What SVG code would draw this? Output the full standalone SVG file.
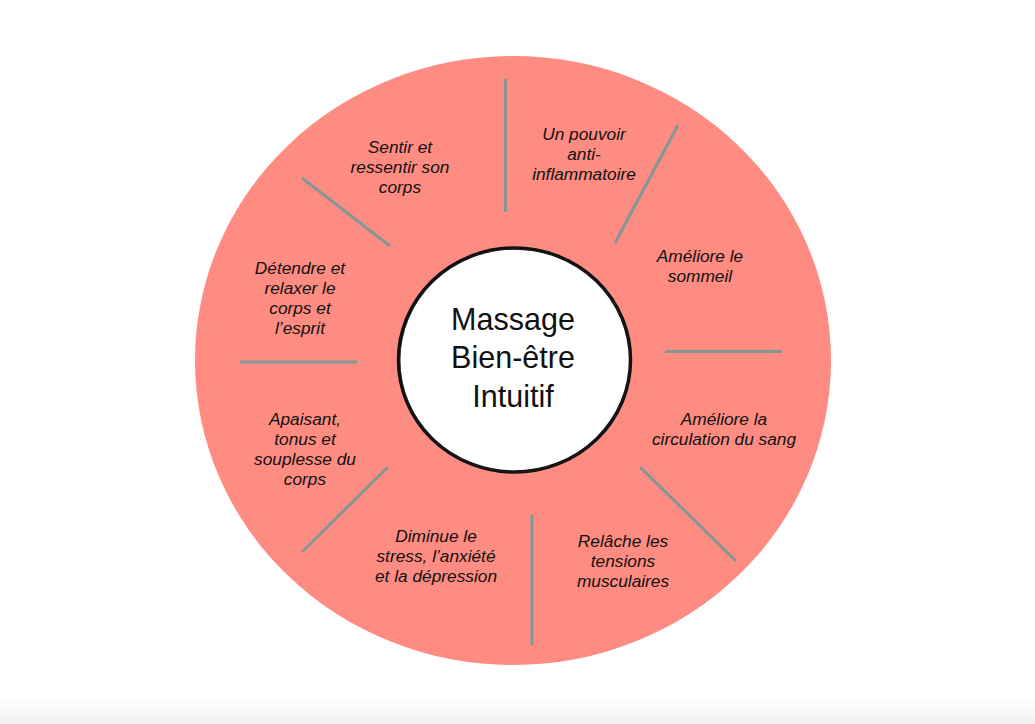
<svg xmlns="http://www.w3.org/2000/svg" width="1035" height="724" viewBox="0 0 1035 724">
<defs>
<linearGradient id="bottomShade" x1="0" y1="0" x2="0" y2="1">
<stop offset="0" stop-color="#ffffff"/>
<stop offset="1" stop-color="#f0f0f0"/>
</linearGradient>
</defs>
<style>
.lbl{font-family:"Liberation Sans",Arial,sans-serif;font-style:italic;font-size:17.3px;fill:#111;text-anchor:middle}
.title{font-family:"Liberation Sans",Arial,sans-serif;font-size:30.5px;fill:#111;text-anchor:middle}
.div{stroke:#829796;stroke-width:3;fill:none}
</style>
<rect x="0" y="0" width="1035" height="724" fill="#ffffff"/>
<rect x="0" y="698" width="1035" height="26" fill="url(#bottomShade)"/>
<g id="ring">
<ellipse cx="513" cy="360.5" rx="318" ry="304.5" fill="#ff8c82"/>
</g>
<g id="connectors">
<line class="div" x1="505.5" y1="79" x2="505.5" y2="212"/>
<line class="div" x1="678" y1="125" x2="615" y2="243"/>
<line class="div" x1="665" y1="351.5" x2="782" y2="351.5"/>
<line class="div" x1="640" y1="467" x2="736" y2="561"/>
<line class="div" x1="532" y1="515" x2="532" y2="645"/>
<line class="div" x1="388" y1="467" x2="302" y2="552"/>
<line class="div" x1="240" y1="362" x2="357" y2="362"/>
<line class="div" x1="302" y1="178" x2="390" y2="246"/>
</g>
<g id="center">
<ellipse cx="514.5" cy="360" rx="116" ry="112" fill="#ffffff" stroke="#111111" stroke-width="3.5"/>
<ellipse cx="515" cy="360.5" rx="115" ry="111.5" fill="none" stroke="#222222" stroke-width="1" opacity="0.6"/>
<text class="title" x="513" y="330">Massage</text>
<text class="title" x="513" y="368">Bien-être</text>
<text class="title" x="513" y="407">Intuitif</text>
</g>
<g id="n-sentir">
<text class="lbl" x="400" y="153">Sentir et</text>
<text class="lbl" x="400" y="173">ressentir son</text>
<text class="lbl" x="400" y="193">corps</text>
</g>
<g id="n-anti">
<text class="lbl" x="584" y="140">Un pouvoir</text>
<text class="lbl" x="584" y="160">anti-</text>
<text class="lbl" x="584" y="180">inflammatoire</text>
</g>
<g id="n-sommeil">
<text class="lbl" x="700" y="262">Améliore le</text>
<text class="lbl" x="700" y="282">sommeil</text>
</g>
<g id="n-circulation">
<text class="lbl" x="724" y="425">Améliore la</text>
<text class="lbl" x="724" y="445">circulation du sang</text>
</g>
<g id="n-tensions">
<text class="lbl" x="623" y="547">Relâche les</text>
<text class="lbl" x="623" y="567">tensions</text>
<text class="lbl" x="623" y="587">musculaires</text>
</g>
<g id="n-stress">
<text class="lbl" x="436" y="542">Diminue le</text>
<text class="lbl" x="436" y="562">stress, l’anxiété</text>
<text class="lbl" x="436" y="582">et la dépression</text>
</g>
<g id="n-apaisant">
<text class="lbl" x="305" y="425">Apaisant,</text>
<text class="lbl" x="305" y="445">tonus et</text>
<text class="lbl" x="305" y="465">souplesse du</text>
<text class="lbl" x="305" y="485">corps</text>
</g>
<g id="n-detendre">
<text class="lbl" x="300" y="274">Détendre et</text>
<text class="lbl" x="300" y="294">relaxer le</text>
<text class="lbl" x="300" y="314">corps et</text>
<text class="lbl" x="300" y="334">l’esprit</text>
</g>
</svg>
